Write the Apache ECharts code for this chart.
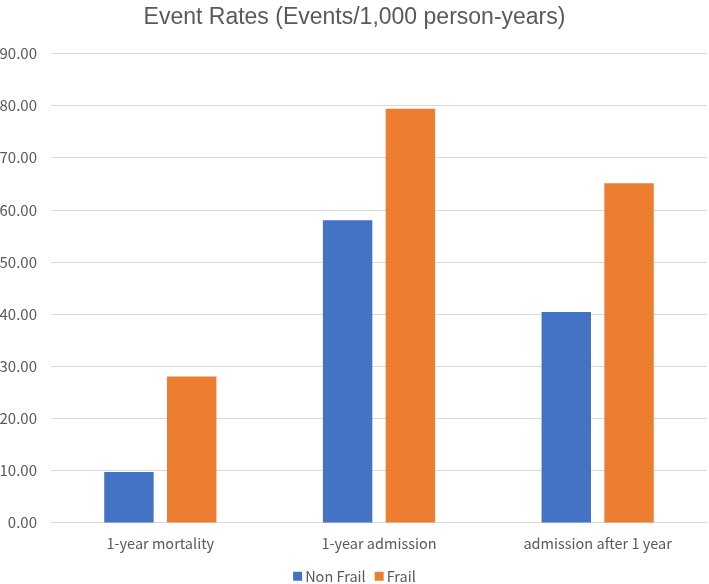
<!DOCTYPE html>
<html>
<head>
<meta charset="utf-8">
<script src="https://cdn.jsdelivr.net/npm/echarts@6/dist/echarts.min.js"></script>
<style>html,body{margin:0;padding:0;background:#fff}#c{width:709px;height:584px}</style>
</head>
<body>
<div id="c"></div>
<script>
const categories = ["1-year mortality", "1-year admission", "admission after 1 year"];
const nonFrail = [9.7, 58.0, 40.4];
const frail = [28.0, 79.4, 65.1];
const seriesNames = ["Non Frail", "Frail"];
const yMin = 0, yMax = 90, yStep = 10;

const chart = echarts.init(document.getElementById('c'), null, {renderer: 'canvas'});
const txt = '#595959';
const lblFont = '"Noto Sans CJK JP", "Noto Sans", sans-serif';
chart.setOption({
  animation: false,
  backgroundColor: '#fff',
  title: {
    text: 'Event Rates (Events/1,000 person-years)',
    left: 'center', top: 1,
    textStyle: {fontFamily: '"Liberation Sans", Arial, sans-serif', fontSize: 23, fontWeight: 'normal', color: txt}
  },
  legend: {
    data: seriesNames, top: 564, left: 'center',
    itemWidth: 9, itemHeight: 9, itemGap: 9, icon: 'rect',
    textStyle: {fontFamily: lblFont, fontSize: 14.5, color: txt, padding: [0, 0, 0, -2]}
  },
  grid: {left: 51, right: 2, top: 53.5, bottom: 61.5, containLabel: false, outerBoundsMode: 'none'},
  xAxis: {
    type: 'category', data: categories,
    axisLine: {lineStyle: {color: '#D9D9D9', width: 1}},
    axisTick: {show: false},
    axisLabel: {fontFamily: lblFont, fontSize: 14.5, color: txt, margin: 14}
  },
  yAxis: {
    type: 'value', min: yMin, max: yMax, interval: yStep,
    axisLine: {show: false}, axisTick: {show: false},
    splitLine: {lineStyle: {color: '#D9D9D9', width: 1}},
    axisLabel: {fontFamily: lblFont, fontSize: 15, color: txt, margin: 14,
      formatter: v => v.toFixed(2)}
  },
  series: [
    {name: seriesNames[0], type: 'bar', data: nonFrail, barWidth: '22.6%', barGap: '27%',
     itemStyle: {color: '#4472C4'}},
    {name: seriesNames[1], type: 'bar', data: frail, barWidth: '22.6%', barGap: '27%',
     itemStyle: {color: '#ED7D31'}}
  ]
});
</script>
</body>
</html>
